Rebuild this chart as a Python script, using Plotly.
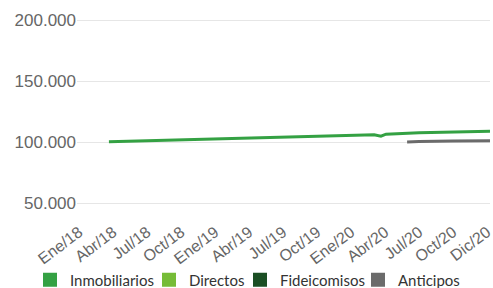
import plotly.graph_objects as go

# Category tick labels (equally spaced on the axis)
tick_labels = ["Ene/18", "Abr/18", "Jul/18", "Oct/18", "Ene/19", "Abr/19", "Jul/19",
               "Oct/19", "Ene/20", "Abr/20", "Jul/20", "Oct/20", "Dic/20"]
tick_pos = list(range(len(tick_labels)))

# Series values (x in tick units)
inmob_x = [0.88, 2, 3, 4, 5, 6, 7, 8, 8.68, 8.88, 9.03, 10, 11, 12.088]
inmob_y = [100300, 101100, 101700, 102300, 103000, 103700, 104400, 105200,
           106000, 104700, 106400, 107500, 108300, 108800]
antic_x = [9.65, 10, 11, 12.088]
antic_y = [100000, 100400, 100800, 101000]

series_names = ["Inmobiliarios", "Directos", "Fideicomisos", "Anticipos"]
series_colors = ["#34a143", "#76bc37", "#1b4f24", "#6b6b6b"]
legend_x = [30, 149, 240, 358]

y_ticks = [50000, 100000, 150000, 200000]

W, H = 493, 288

fig = go.Figure()
fig.add_trace(go.Scatter(x=inmob_x, y=inmob_y, mode="lines",
                         line=dict(color=series_colors[0], width=3),
                         showlegend=False, hoverinfo="skip"))
fig.add_trace(go.Scatter(x=antic_x, y=antic_y, mode="lines",
                         line=dict(color=series_colors[3], width=3),
                         showlegend=False, hoverinfo="skip"))

legend_layout = {}
for i, (name, col, lx) in enumerate(zip(series_names, series_colors, legend_x)):
    key = "legend" if i == 0 else f"legend{i+1}"
    fig.add_trace(go.Scatter(x=[None], y=[None], mode="markers", name=name,
                             legend=key,
                             marker=dict(symbol="square", size=14, color=col)))
    legend_layout[key] = dict(orientation="h", xref="container", yref="container",
                              x=lx / W, xanchor="left", y=(H - 280) / H, yanchor="middle",
                              font=dict(family="Lato", size=15, color="#333333"),
                              itemclick=False, bgcolor="rgba(0,0,0,0)")

fig.update_layout(
    width=W, height=H,
    margin=dict(l=77, r=3, t=10, b=73),
    paper_bgcolor="white", plot_bgcolor="white",
    separators=",.",
    showlegend=True,
    hovermode=False,
    xaxis=dict(range=[-0.059, 12.088], tickmode="array", tickvals=tick_pos,
               ticktext=tick_labels, tickangle=-37, showgrid=False,
               showline=False, zeroline=False, ticks="", automargin=False,
               ticklabeloverflow="allow", ticklabelstandoff=4,
               tickfont=dict(family="Liberation Sans", size=16, color="#666666")),
    yaxis=dict(range=[40160, 208200], tickmode="array", tickvals=y_ticks,
               tickformat=",.0f", showgrid=True, gridcolor="#e6e6e6",
               gridwidth=1, zeroline=False, showline=False, ticks="", automargin=False,
               tickfont=dict(family="Liberation Sans", size=17, color="#666666")),
    **legend_layout,
)

fig.write_html("out.html", config={"displayModeBar": False},
               post_script="document.body.style.margin='0px';")
